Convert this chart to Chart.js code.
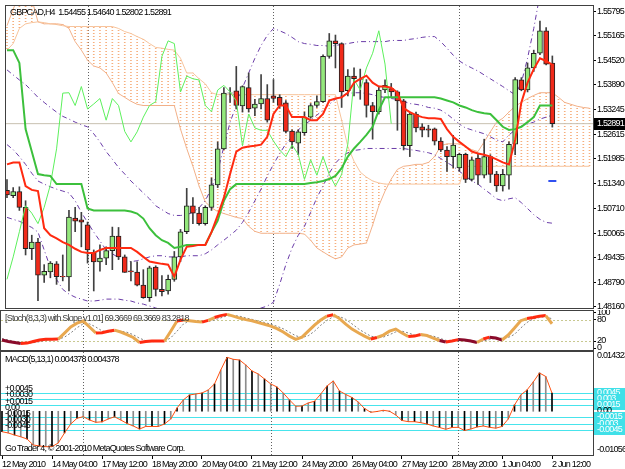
<!DOCTYPE html>
<html>
<head>
<meta charset="utf-8">
<script src="https://cdn.jsdelivr.net/npm/chart.js@4.4.1/dist/chart.umd.min.js"></script>
<style>
  html, body { margin: 0; padding: 0; background: #fff; }
  #wrap { position: relative; width: 625px; height: 469px; overflow: hidden; background: #fff; }
  #wrap canvas { position: absolute; left: 0; }
</style>
</head>
<body>
<div id="wrap">
  <canvas id="mainChart" width="625" height="314" style="top:0px"></canvas>
  <canvas id="stochChart" width="625" height="42" style="top:310px"></canvas>
  <canvas id="macdChart" width="625" height="118" style="top:351px"></canvas>
</div>
<script>
// GBPCAD H4, one entry per bar (12 May 20:00 .. 2 Jun 12:00)
const openP = [1.5117,1.5103,1.5114,1.5073,1.4966,1.4983,1.4898,1.4906,1.4927,1.4895,
  1.4893,1.5045,1.5041,1.5028,1.4956,1.4932,1.4942,1.4961,1.4999,1.4945,
  1.4909,1.4906,1.4872,1.4840,1.4919,1.4861,1.4857,1.4887,1.4945,1.5010,
  1.5077,1.5058,1.5031,1.5073,1.5131,1.5224,1.5368,1.5374,1.5335,1.5382,
  1.5329,1.5340,1.5354,1.5361,1.5357,1.5343,1.5270,1.5239,1.5266,1.5306,
  1.5336,1.5346,1.5463,1.5503,1.5496,1.5374,1.5412,1.5403,1.5395,1.5336,
  1.5320,1.5376,1.5380,1.5371,1.5348,1.5232,1.5314,1.5281,1.5276,1.5276,
  1.5244,1.5221,1.5204,1.5175,1.5210,1.5145,1.5200,1.5156,1.5204,1.5159,
  1.5128,1.5156,1.5236,1.5402,1.5376,1.5433,1.5471,1.5529,1.54455];
const highP = [1.5145,1.5124,1.5126,1.5090,1.5001,1.4993,1.4925,1.4933,1.4933,1.4950,
  1.5065,1.5073,1.5060,1.5035,1.4963,1.4976,1.4971,1.5022,1.5021,1.4950,
  1.4933,1.4932,1.4912,1.4921,1.4922,1.4897,1.4898,1.4959,1.5016,1.5122,
  1.5098,1.5073,1.5077,1.5149,1.5242,1.5382,1.5382,1.5437,1.5387,1.5420,
  1.5352,1.5416,1.5390,1.5403,1.5364,1.5349,1.5273,1.5273,1.5319,1.5341,
  1.5361,1.5467,1.5522,1.5518,1.5498,1.5429,1.5433,1.5430,1.5403,1.5344,
  1.5386,1.5402,1.5393,1.5374,1.5352,1.5319,1.5319,1.5289,1.5285,1.5278,
  1.5253,1.5230,1.5259,1.5213,1.5213,1.5202,1.5213,1.5249,1.5209,1.5166,
  1.5171,1.5242,1.5408,1.5408,1.5446,1.5479,1.5554,1.5537,1.54640];
const lowP = [1.5098,1.5098,1.5065,1.4950,1.4938,1.4832,1.4879,1.4891,1.4874,1.4883,
  1.4857,1.5010,1.4971,1.4929,1.4857,1.4908,1.4925,1.4912,1.4938,1.4905,
  1.4883,1.4870,1.4838,1.4830,1.4844,1.4844,1.4849,1.4882,1.4933,1.5005,
  1.5031,1.5027,1.5027,1.5065,1.5124,1.5222,1.5344,1.5327,1.5319,1.5319,
  1.5310,1.5327,1.5293,1.5344,1.5329,1.5265,1.5225,1.5209,1.5259,1.5303,
  1.5331,1.5344,1.5458,1.5433,1.5331,1.5361,1.5361,1.5352,1.5306,1.5249,
  1.5314,1.5369,1.5357,1.5272,1.5221,1.5204,1.5268,1.5255,1.5255,1.5234,
  1.5217,1.5166,1.5175,1.5166,1.5137,1.5141,1.5132,1.5149,1.5137,1.5114,
  1.5115,1.5120,1.5209,1.5374,1.5371,1.5424,1.5467,1.5441,1.52802];
const closeP = [1.5105,1.5114,1.5073,1.4966,1.4983,1.4898,1.4908,1.4929,1.4894,1.4893,
  1.5048,1.5037,1.5035,1.4963,1.4932,1.4942,1.4961,1.4999,1.4945,1.4905,
  1.4906,1.4872,1.4840,1.4917,1.4861,1.4855,1.4887,1.4945,1.5010,1.5077,
  1.5058,1.5031,1.5073,1.5131,1.5224,1.5368,1.5369,1.5336,1.5385,1.5327,
  1.5340,1.5354,1.5298,1.5354,1.5336,1.5269,1.5242,1.5268,1.5306,1.5336,
  1.5346,1.5463,1.5503,1.5496,1.5371,1.5412,1.5405,1.5402,1.5336,1.5320,
  1.5376,1.5388,1.5371,1.5348,1.5232,1.5314,1.5278,1.5272,1.5272,1.5244,
  1.5221,1.5204,1.5234,1.5210,1.5145,1.5196,1.5156,1.5204,1.5158,1.5128,
  1.5158,1.5236,1.5403,1.5376,1.5433,1.5471,1.5529,1.5443,1.52891];

// ichimoku
const tenkan = [1.5184,1.5189,1.5189,1.5128,1.5118,1.5115,1.5019,1.5001,1.4993,1.4983,
  1.4976,1.4966,1.4958,1.4955,1.4955,1.4963,1.4968,1.4968,1.4968,1.4968,
  1.4968,1.4958,1.4945,1.4933,1.4930,1.4927,1.4925,1.4894,1.4938,1.4971,
  1.4973,1.4976,1.4976,1.5009,1.5052,1.5098,1.5159,1.5217,1.5227,1.5230,
  1.5232,1.5235,1.5255,1.5314,1.5336,1.5336,1.5306,1.5306,1.5306,1.5298,
  1.5298,1.5314,1.5349,1.5354,1.5357,1.5369,1.5395,1.5405,1.5413,1.5395,
  1.5385,1.5385,1.5382,1.5369,1.5329,1.5319,1.5311,1.5306,1.5303,1.5303,
  1.5301,1.5275,1.5255,1.5242,1.5230,1.5217,1.5212,1.5209,1.5204,1.5197,
  1.5189,1.5184,1.5247,1.5344,1.5395,1.5430,1.5458,1.5451,1.5441];
const kijun = [1.5479,1.5479,1.5446,1.5275,1.5217,1.5159,1.5156,1.5154,1.5133,1.5133,
  1.5133,1.5133,1.5133,1.5070,1.5065,1.5065,1.5065,1.5065,1.5065,1.5065,
  1.5062,1.5057,1.5044,1.5019,1.5001,1.4988,1.4981,1.4968,1.4971,1.4976,
  1.4976,1.4976,1.4976,1.5009,1.5039,1.5090,1.5120,1.5133,1.5133,1.5133,
  1.5133,1.5133,1.5133,1.5133,1.5133,1.5133,1.5133,1.5133,1.5133,1.5136,
  1.5138,1.5141,1.5146,1.5154,1.5174,1.5204,1.5225,1.5242,1.5260,1.5281,
  1.5324,1.5357,1.5357,1.5357,1.5357,1.5357,1.5357,1.5357,1.5357,1.5357,
  1.5354,1.5349,1.5344,1.5336,1.5331,1.5324,1.5319,1.5316,1.5314,1.5298,
  1.5281,1.5273,1.5275,1.5281,1.5293,1.5306,1.5336,1.5336,1.5336];
// cloud runs 6 bars past the last candle
const spanA = [1.5479,1.5496,1.5535,1.5547,1.5550,1.5552,1.5550,1.5547,1.5545,1.5542,
  1.5540,1.5540,1.5540,1.5540,1.5540,1.5540,1.5540,1.5540,1.5535,1.5527,
  1.5522,1.5514,1.5507,1.5496,1.5486,1.5484,1.5481,1.5479,1.5458,1.5420,
  1.5420,1.5405,1.5392,1.5369,1.5364,1.5364,1.5364,1.5364,1.5364,1.5364,
  1.5364,1.5364,1.5364,1.5364,1.5364,1.5364,1.5364,1.5364,1.5364,1.5364,
  1.5364,1.5364,1.5364,1.5364,1.5298,1.5230,1.5192,1.5164,1.5151,1.5141,
  1.5136,1.5133,1.5133,1.5133,1.5133,1.5133,1.5133,1.5133,1.5133,1.5133,
  1.5133,1.5133,1.5133,1.5133,1.5179,1.5179,1.5179,1.5179,1.5179,1.5179,
  1.5179,1.5179,1.5179,1.5179,1.5179,1.5179,1.5179,1.5179,1.5179,1.5179,
  1.5179,1.5179,1.5179,1.5179,1.5179];
const spanB = [1.5542,1.5585,1.5623,1.5623,1.5611,1.5552,1.5547,1.5547,1.5547,1.5545,
  1.5535,1.5501,1.5479,1.5453,1.5438,1.5433,1.5420,1.5395,1.5367,1.5357,
  1.5347,1.5339,1.5336,1.5336,1.5336,1.5336,1.5336,1.5336,1.5275,1.5225,
  1.5179,1.5128,1.5087,1.5072,1.5062,1.5057,1.5052,1.5047,1.5044,1.5024,
  1.5011,1.5006,1.5006,1.5006,1.5006,1.5006,1.5006,1.5006,1.5004,1.4988,
  1.4968,1.4958,1.4948,1.4940,1.4945,1.4968,1.4976,1.4978,1.4981,1.5027,
  1.5077,1.5115,1.5146,1.5171,1.5179,1.5181,1.5184,1.5184,1.5189,1.5204,
  1.5232,1.5237,1.5237,1.5237,1.5230,1.5222,1.5217,1.5242,1.5268,1.5293,
  1.5303,1.5319,1.5334,1.5344,1.5354,1.5362,1.5369,1.5369,1.5369,1.5357,
  1.5344,1.5339,1.5334,1.5331,1.5329];
const chikouShift = 26;

// bands (purple dash-dot)
const bandUp = [1.5428,1.5415,1.5402,1.5390,1.5374,1.5357,1.5344,1.5331,1.5319,1.5308,
  1.5301,1.5293,1.5286,1.5281,1.5263,1.5242,1.5217,1.5197,1.5176,1.5159,
  1.5141,1.5126,1.5110,1.5095,1.5077,1.5067,1.5057,1.5052,1.5052,1.5054,
  1.5060,1.5072,1.5090,1.5123,1.5166,1.5230,1.5293,1.5336,1.5382,1.5420,
  1.5458,1.5491,1.5517,1.5535,1.5529,1.5522,1.5512,1.5501,1.5496,1.5494,
  1.5491,1.5491,1.5489,1.5491,1.5494,1.5496,1.5499,1.5501,1.5501,1.5501,
  1.5501,1.5501,1.5504,1.5504,1.5504,1.5507,1.5509,1.5512,1.5514,1.5514,
  1.5501,1.5484,1.5466,1.5451,1.5441,1.5433,1.5425,1.5415,1.5405,1.5395,
  1.5385,1.5374,1.5364,1.5395,1.5458,1.5535,1.5623,1.5674,1.5700];
const bandMid = [1.5235,1.5222,1.5204,1.5184,1.5161,1.5141,1.5133,1.5126,1.5120,1.5115,
  1.5110,1.5090,1.5060,1.5034,1.5009,1.4986,1.4963,1.4953,1.4943,1.4935,
  1.4933,1.4935,1.4940,1.4945,1.4948,1.4948,1.4945,1.4945,1.4945,1.4948,
  1.4948,1.4948,1.4953,1.4963,1.4976,1.4988,1.5001,1.5014,1.5034,1.5060,
  1.5090,1.5120,1.5154,1.5184,1.5212,1.5237,1.5255,1.5273,1.5286,1.5298,
  1.5311,1.5324,1.5339,1.5352,1.5362,1.5367,1.5369,1.5369,1.5367,1.5364,
  1.5359,1.5357,1.5354,1.5352,1.5347,1.5341,1.5339,1.5336,1.5331,1.5329,
  1.5324,1.5314,1.5301,1.5288,1.5278,1.5273,1.5268,1.5263,1.5255,1.5247,
  1.5242,1.5260,1.5273,1.5283,1.5288,1.5293,1.5301,1.5306,1.5311];
const bandLow = [1.5047,1.5042,1.5037,1.5029,1.5021,1.5009,1.4963,1.4917,1.4887,1.4861,
  1.4849,1.4841,1.4836,1.4831,1.4831,1.4833,1.4836,1.4836,1.4836,1.4833,
  1.4831,1.4826,1.4823,1.4818,1.4813,1.4808,1.4806,1.4806,1.4806,1.4806,
  1.4806,1.4806,1.4806,1.4806,1.4808,1.4808,1.4806,1.4803,1.4803,1.4806,
  1.4808,1.4813,1.4818,1.4828,1.4874,1.4925,1.4968,1.5001,1.5024,1.5060,
  1.5098,1.5128,1.5161,1.5187,1.5204,1.5214,1.5220,1.5222,1.5225,1.5225,
  1.5225,1.5225,1.5225,1.5225,1.5225,1.5222,1.5220,1.5217,1.5214,1.5209,
  1.5199,1.5189,1.5179,1.5166,1.5154,1.5141,1.5133,1.5120,1.5108,1.5095,
  1.5090,1.5095,1.5098,1.5085,1.5070,1.5054,1.5042,1.5034,1.5032];
const blueMark = [{ x: 88, y: 1.5141 }];

// stochastic (8,3,3)
const stochMain = [23,18.5,15.7,12.8,14,18.5,22.8,24.8,24.8,25.6,
  42.7,60,71,77,60,43,43.6,48,51,45.6,
  38.5,30,15.7,18.5,20,20,20,48,77,80,
  78,75.5,74,79,87,92.6,96,91,85.5,81,
  78,72.6,68,62.7,55.5,45.6,34,24.8,31,48,
  65.5,80,91,95,84,68,54,43.6,34,25.6,
  30,37,48,54,42.7,33,34,38.5,35.6,28.5,
  21.4,17,20,24,22.8,20,15.7,25.6,31,28.5,
  23,37,57,78,84,87,91,92.6,69.37];
const stochSignal = [27,23,19,16,14,15,18,22,24,25,
  31,43,58,69,69,60,49,45,48,48,
  45,38,28,21,18,19,20,29,48,68,
  78,78,76,76,80,86,92,93,91,86,
  82,77,73,68,62,55,45,35,30,35,
  48,65,79,89,90,82,69,55,44,34,
  30,31,38,46,48,43,37,35,36,34,
  28,22,19,20,22,22,19,20,24,28,
  28,30,39,57,73,83,87,90,83.28];
const stochLevels = [80, 20];
const stochTicks = [0, 20, 80, 100];

// MACD (5,13,1)
const macdVals = [-0.00493,-0.00524,-0.00573,-0.00616,-0.00669,-0.00814,-0.00838,-0.00855,-0.00855,-0.00766,
  -0.00524,-0.00307,-0.00169,-0.00130,-0.00210,-0.00266,-0.00254,-0.00186,-0.00133,-0.00210,
  -0.00295,-0.00355,-0.00428,-0.00367,-0.00367,-0.00367,-0.00307,-0.00186,0.00080,0.00273,
  0.00394,0.00418,0.00442,0.00515,0.00660,0.00998,0.01305,0.01256,0.01239,0.01119,
  0.00974,0.00901,0.00780,0.00660,0.00587,0.00442,0.00273,0.00121,0.00128,0.00201,
  0.00242,0.00418,0.00611,0.00732,0.00490,0.00406,0.00333,0.00225,0.00068,-0.00024,
  -0.00005,0.00024,0.00002,-0.00089,-0.00222,-0.00251,-0.00251,-0.00275,-0.00307,-0.00355,
  -0.00391,-0.00435,-0.00391,-0.00387,-0.00464,-0.00428,-0.00379,-0.00355,-0.00387,-0.00408,
  -0.00367,-0.00186,0.00152,0.00394,0.00515,0.00708,0.00925,0.00841,0.004378];
const macdLevels = [0.0045, 0.003, 0.0015, 0, -0.0015, -0.003, -0.0045];
const macdLevelLeft = ['+0.0045', '+0.0030', '+0.0015', '0.00', '-0.0015', '-0.0030', '-0.0045'];
const macdLevelRight = ['0.0045', '0.003', '0.0015', '0.00', '-0.0015', '-0.003', '-0.0045'];
const macdMax = 0.014323;
const macdMin = -0.01056;

// axes
const priceTicks = [1.55795,1.55165,1.54520,1.53890,1.53245,1.52615,1.51985,1.51340,1.50710,1.50065,1.49435,1.48790,1.48160];
const timeTickBars = [0, 8, 16, 24, 32, 40, 48, 56, 64, 72, 80, 88];
const timeLabels = ['12 May 2010','14 May 04:00','17 May 12:00','18 May 20:00','20 May 04:00','21 May 12:00',
  '24 May 20:00','26 May 04:00','27 May 12:00','28 May 20:00','1 Jun 04:00','2 Jun 12:00'];
const separatorBars = [13, 43, 73];

const mainTitle = 'GBPCAD,H4  1.54455 1.54640 1.52802 1.52891';
const stochTitle = '[Stoch(8,3,3) with Slope v1.01] 69.3669 69.3669 83.2818';
const macdTitle = 'MACD(5,13,1) 0.004378 0.004378';
const footer = 'Go Trader 4, \u00A9 2001-2010 MetaQuotes Software Corp.';

// ---------- helpers ----------
const FAM = "'Liberation Sans',Arial,sans-serif";
const TIGHT = '-0.8px';
const axisFont = { family: FAM, size: 9 };
const xRange = { min: -0.16, max: 94.56 };
const pts = arr => arr.map((v, i) => ({ x: i, y: v }));

const hatch = (() => {
  const c = document.createElement('canvas');
  c.width = 1; c.height = 3;
  const g = c.getContext('2d');
  g.fillStyle = '#F6AE7C';
  g.fillRect(0, 0, 1, 1);
  return g.createPattern(c, 'repeat');
})();

// MT4 uses a small condensed font; squeeze the text a bit
const tightText = {
  id: 'tightText',
  beforeDraw(chart) { chart.ctx.letterSpacing = TIGHT; }
};

function textStyle(ctx) {
  ctx.font = '9px ' + FAM;
  ctx.letterSpacing = TIGHT;
  ctx.textBaseline = 'middle';
  ctx.textAlign = 'left';
}

const frame = {
  id: 'frame',
  beforeDatasetsDraw(chart) {
    const { ctx, chartArea: a, scales } = chart;
    ctx.save();
    ctx.strokeStyle = '#606060';
    ctx.setLineDash([1, 2]);
    separatorBars.forEach(b => {
      const x = Math.round(scales.x.getPixelForValue(b)) + 0.5;
      ctx.beginPath(); ctx.moveTo(x, a.top); ctx.lineTo(x, a.bottom); ctx.stroke();
    });
    ctx.restore();
  },
  afterDraw(chart, args, opts) {
    const { ctx, chartArea: a } = chart;
    ctx.save();
    ctx.strokeStyle = '#404040';
    ctx.lineWidth = 1;
    ctx.strokeRect(a.left - 0.5, a.top - 0.5, a.right - a.left + 1, a.bottom - a.top + 1);
    textStyle(ctx);
    (opts.texts || []).forEach(t => {
      ctx.fillStyle = t.color || '#000';
      ctx.fillText(t.text, a.left + 4, t.top ? a.top + t.top : a.bottom - t.bottom);
    });
    ctx.restore();
  }
};

const priceTag = {
  id: 'priceTag',
  afterDraw(chart) {
    const { ctx, chartArea: a, scales } = chart;
    const last = closeP[closeP.length - 1];
    const y = Math.round(scales.y.getPixelForValue(last));
    ctx.save();
    ctx.fillStyle = '#000';
    ctx.fillRect(a.right + 1, y - 6, chart.width - a.right - 1, 12);
    textStyle(ctx);
    ctx.fillStyle = '#fff';
    ctx.fillText(last.toFixed(5), a.right + 4, y);
    ctx.restore();
  }
};

const stochGuides = {
  id: 'stochGuides',
  beforeDatasetsDraw(chart) {
    const { ctx, chartArea: a, scales } = chart;
    ctx.save();
    ctx.strokeStyle = '#C8C890';
    ctx.setLineDash([2, 2]);
    stochLevels.forEach(l => {
      const y = Math.round(scales.y.getPixelForValue(l)) + 0.5;
      ctx.beginPath(); ctx.moveTo(a.left, y); ctx.lineTo(a.right, y); ctx.stroke();
    });
    ctx.restore();
  }
};

const macdGuides = {
  id: 'macdGuides',
  beforeDatasetsDraw(chart) {
    const { ctx, chartArea: a, scales } = chart;
    ctx.save();
    ctx.strokeStyle = '#48E4EC';
    macdLevels.forEach(l => {
      if (l === 0) return;
      const y = Math.round(scales.y.getPixelForValue(l)) + 0.5;
      ctx.beginPath(); ctx.moveTo(a.left, y); ctx.lineTo(a.right, y); ctx.stroke();
    });
    ctx.restore();
  },
  afterDraw(chart) {
    const { ctx, chartArea: a, scales } = chart;
    ctx.save();
    textStyle(ctx);
    // left captions just above each level
    ctx.fillStyle = '#000';
    macdLevels.forEach((l, i) => {
      const y = scales.y.getPixelForValue(l);
      ctx.fillText(macdLevelLeft[i], a.left + 4, y - 4);
    });
    // right scale
    const rx = a.right + 4;
    ctx.fillText(macdMax.toFixed(6), rx, a.top + 4);
    ctx.fillText(macdMin.toFixed(5), rx, a.bottom - 5);
    macdLevels.forEach((l, i) => {
      const y = Math.round(scales.y.getPixelForValue(l));
      if (l !== 0) {
        ctx.fillStyle = '#40E0E8';
        ctx.fillRect(a.right + 1, y - 5, chart.width - a.right - 1, 10);
        ctx.fillStyle = '#fff';
      } else {
        ctx.fillStyle = '#000';
      }
      ctx.fillText(macdLevelRight[i], rx, y);
    });
    ctx.restore();
  }
};

const hiddenX = { type: 'linear', display: false, offset: false, ...xRange };

// ---------- main price chart ----------
new Chart(document.getElementById('mainChart'), {
  type: 'bar',
  data: {
    datasets: [
      { type: 'bar', data: spanA.map((v, i) => ({ x: i, y: [v, spanB[i]] })), backgroundColor: hatch,
        barThickness: 1, borderWidth: 0, order: 20 },
      { type: 'line', data: pts(spanA), borderColor: '#F7C49C', borderWidth: 1, pointRadius: 0, order: 19 },
      { type: 'line', data: pts(spanB), borderColor: '#F2B088', borderWidth: 1, pointRadius: 0, order: 19 },
      { type: 'line', data: pts(bandUp), borderColor: '#6A3CA8', borderWidth: 1, borderDash: [5, 3, 1, 3], pointRadius: 0, order: 18 },
      { type: 'line', data: pts(bandMid), borderColor: '#6A3CA8', borderWidth: 1, borderDash: [5, 3, 1, 3], pointRadius: 0, order: 18 },
      { type: 'line', data: pts(bandLow), borderColor: '#6A3CA8', borderWidth: 1, borderDash: [5, 3, 1, 3], pointRadius: 0, order: 18 },
      { type: 'line', data: [{ x: xRange.min, y: closeP[closeP.length - 1] }, { x: xRange.max, y: closeP[closeP.length - 1] }],
        borderColor: '#C8C0B0', borderWidth: 1, pointRadius: 0, order: 17 },
      { type: 'bar', data: lowP.map((v, i) => ({ x: i, y: [v, highP[i]] })), backgroundColor: '#404040',
        barThickness: 1, borderWidth: 0, order: 16 },
      { type: 'bar', data: openP.map((v, i) => ({ x: i, y: [v, closeP[i]] })),
        backgroundColor: ctx => closeP[ctx.dataIndex] >= openP[ctx.dataIndex] ? '#94E87C' : '#F02A1A',
        borderColor: '#202020', borderWidth: 1, borderSkipped: false, barThickness: 5, order: 15 },
      { type: 'line', data: closeP.slice(chikouShift).map((v, i) => ({ x: i, y: v })),
        borderColor: '#5CF05C', borderWidth: 1, pointRadius: 0, order: 4 },
      { type: 'line', data: pts(kijun), borderColor: '#3CC03C', borderWidth: 2, pointRadius: 0, order: 3 },
      { type: 'line', data: pts(tenkan), borderColor: '#FF2A10', borderWidth: 2, pointRadius: 0, order: 2 },
      { type: 'line', data: blueMark, showLine: false, pointStyle: 'line', pointRadius: 4,
        borderColor: '#3050F0', borderWidth: 2, order: 1 }
    ]
  },
  options: {
    responsive: false,
    animation: false,
    devicePixelRatio: 1,
    layout: { padding: { left: 1, top: 2, bottom: 5, right: 0 } },
    datasets: { bar: { grouped: false } },
    scales: {
      x: hiddenX,
      y: {
        position: 'right', min: 1.4813, max: 1.5593,
        afterBuildTicks: s => { s.ticks = priceTicks.map(v => ({ value: v })); },
        afterFit: s => { s.width = 32; s.paddingTop = 0; s.paddingBottom = 0; },
        ticks: { autoSkip: false, font: axisFont, color: '#000', padding: 1, callback: v => v.toFixed(5) },
        grid: { drawOnChartArea: false, drawTicks: true, tickLength: 3, color: '#000' },
        border: { display: false }
      }
    },
    plugins: {
      legend: { display: false },
      tooltip: { enabled: false },
      frame: { texts: [{ text: mainTitle, top: 7 }] }
    }
  },
  plugins: [tightText, frame, priceTag]
});

// ---------- stochastic ----------
new Chart(document.getElementById('stochChart'), {
  type: 'line',
  data: {
    datasets: [
      { data: pts(stochSignal), borderColor: '#808080', borderWidth: 1, borderDash: [2, 2], pointRadius: 0, order: 2 },
      { data: pts(stochMain), borderWidth: 3, pointRadius: 0, order: 1,
        borderColor: '#E8A850',
        segment: {
          borderColor: ctx => {
            const d = ctx.p1.parsed.y - ctx.p0.parsed.y;
            if (Math.abs(d) >= 6) return '#E8A850';
            if (d >= 0) return '#FF2A10';
            return ctx.p1.parsed.y < 30 ? '#8A0A2A' : '#E8A850';
          }
        } }
    ]
  },
  options: {
    responsive: false,
    animation: false,
    devicePixelRatio: 1,
    layout: { padding: { left: 1, top: 1, bottom: 2, right: 0 } },
    scales: {
      x: hiddenX,
      y: {
        position: 'right', min: -5.7, max: 105.7,
        afterBuildTicks: s => { s.ticks = stochTicks.map(v => ({ value: v })); },
        afterFit: s => { s.width = 32; s.paddingTop = 0; s.paddingBottom = 0; },
        ticks: { autoSkip: false, font: axisFont, color: '#000', padding: 1 },
        grid: { drawOnChartArea: false, drawTicks: true, tickLength: 3, color: '#000' },
        border: { display: false }
      }
    },
    plugins: {
      legend: { display: false },
      tooltip: { enabled: false },
      frame: { texts: [{ text: stochTitle, top: 8, color: '#404040' }] }
    }
  },
  plugins: [tightText, stochGuides, frame]
});

// ---------- MACD ----------
new Chart(document.getElementById('macdChart'), {
  type: 'bar',
  data: {
    datasets: [
      { type: 'bar', data: pts(macdVals), barThickness: 1, borderWidth: 0, order: 2,
        backgroundColor: ctx => ctx.dataIndex % 2 ? '#8C8C8C' : '#000000' },
      { type: 'line', data: pts(macdVals), borderColor: '#FF5010', borderWidth: 1, pointRadius: 0, order: 1 }
    ]
  },
  options: {
    responsive: false,
    animation: false,
    devicePixelRatio: 1,
    layout: { padding: { left: 1, top: 1, bottom: 0, right: 32 } },
    datasets: { bar: { grouped: false } },
    scales: {
      x: {
        type: 'linear', offset: false, ...xRange, position: 'bottom',
        afterBuildTicks: s => { s.ticks = timeTickBars.map(v => ({ value: v })); },
        afterFit: s => { s.height = 14; s.paddingLeft = 0; s.paddingRight = 0; },
        ticks: {
          autoSkip: false, maxRotation: 0, align: 'start', font: axisFont, color: '#000', padding: 0,
          callback: v => timeLabels[timeTickBars.indexOf(v)]
        },
        grid: { drawOnChartArea: false, drawTicks: true, tickLength: 4, color: '#000', offset: false },
        border: { display: false }
      },
      y: { display: false, min: macdMin, max: macdMax }
    },
    plugins: {
      legend: { display: false },
      tooltip: { enabled: false },
      frame: { texts: [{ text: macdTitle, top: 8 }, { text: footer, bottom: 6 }] }
    }
  },
  plugins: [tightText, macdGuides, frame]
});
</script>
</body>
</html>
